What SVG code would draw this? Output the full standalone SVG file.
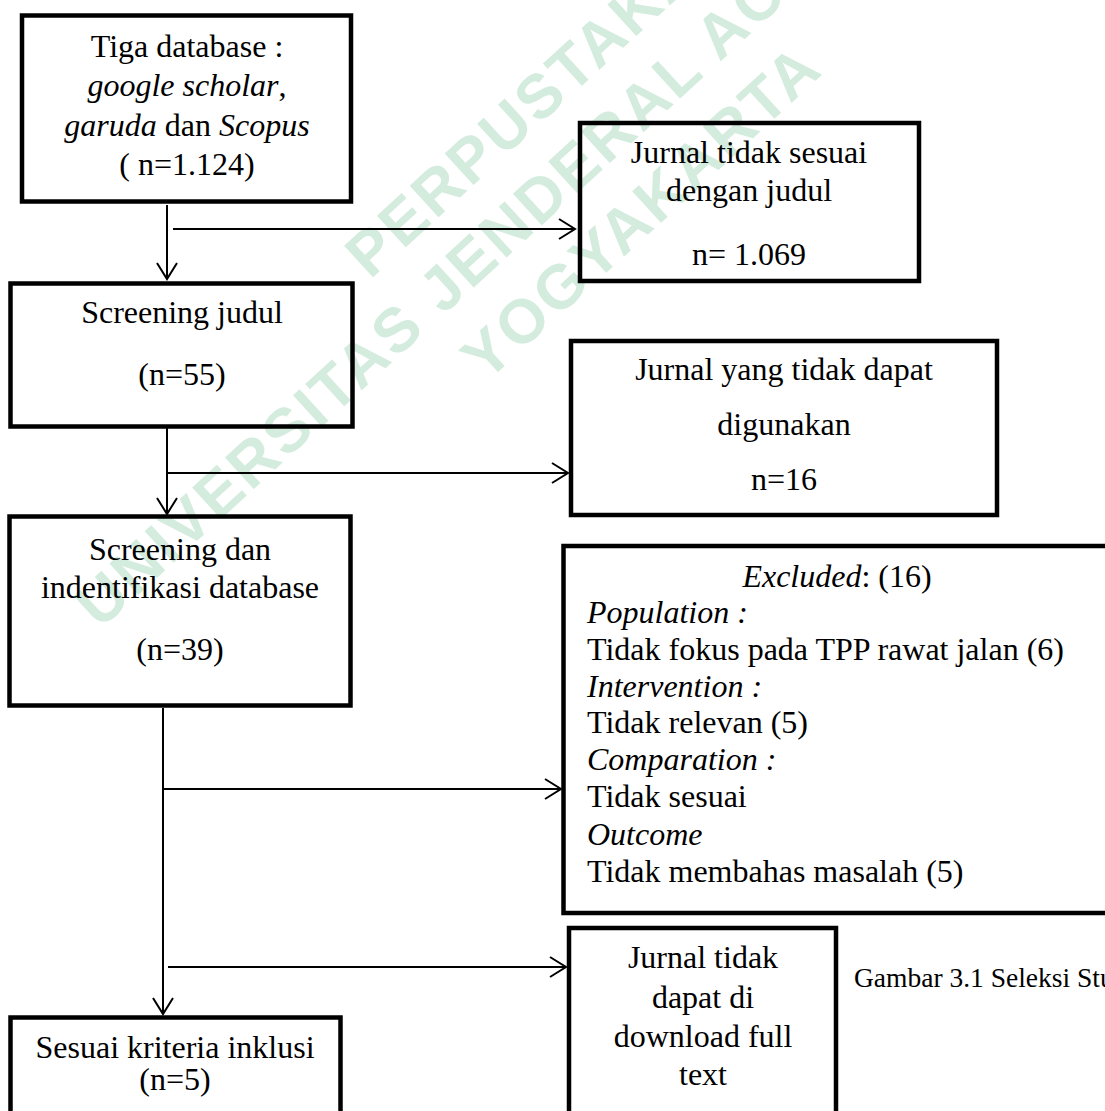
<svg xmlns="http://www.w3.org/2000/svg" width="1105" height="1111" viewBox="0 0 1105 1111">
<style>
.box{fill:none;stroke:#000;stroke-width:4.5}
.t{font-family:"Liberation Serif","Times New Roman",serif;font-size:32px;fill:#000}
.c{text-anchor:middle}
.i{font-style:italic}
.con{fill:none;stroke:#000;stroke-width:2}
.wm{font-family:"Liberation Sans",Arial,sans-serif;font-weight:bold;font-size:62px;fill:#d3ecde;letter-spacing:3px}
</style>
<defs>
<marker id="ah" markerWidth="20" markerHeight="24" refX="17" refY="11" orient="auto" markerUnits="userSpaceOnUse">
<path d="M1,1 L17,11 L1,21" fill="none" stroke="#000" stroke-width="2"/>
</marker>
</defs>
<rect width="1105" height="1111" fill="#fff"/>
<g id="watermark">
<text class="wm" x="370" y="280" transform="rotate(-42.5 370 280)">PERPUSTAKAAN</text>
<text class="wm" x="100" y="630" transform="rotate(-42.5 100 630)">UNIVERSITAS JENDERAL ACHMAD YANI</text>
<text class="wm" x="486" y="383" transform="rotate(-42.5 486 383)">YOGYAKARTA</text>
</g>
<g id="connectors">
<line class="con" x1="167" y1="205" x2="167" y2="279" marker-end="url(#ah)"/>
<line class="con" x1="173" y1="229" x2="575" y2="229" marker-end="url(#ah)"/>
<line class="con" x1="167" y1="428" x2="167" y2="514" marker-end="url(#ah)"/>
<line class="con" x1="167" y1="473" x2="568" y2="473" marker-end="url(#ah)"/>
<line class="con" x1="163" y1="708" x2="163" y2="1014" marker-end="url(#ah)"/>
<line class="con" x1="163" y1="789" x2="561" y2="789" marker-end="url(#ah)"/>
<line class="con" x1="168" y1="967" x2="566" y2="967" marker-end="url(#ah)"/>
</g>
<g id="n1">
<rect class="box" x="22" y="15.5" width="329" height="186"/>
<text class="t c" x="187" y="57">Tiga database :</text>
<text class="t c" x="187" y="96"><tspan class="i">google scholar</tspan>,</text>
<text class="t c" x="187" y="136"><tspan class="i">garuda</tspan> dan <tspan class="i">Scopus</tspan></text>
<text class="t c" x="187" y="175">( n=1.124)</text>
</g>
<g id="n2">
<rect class="box" x="580" y="123" width="339" height="158"/>
<text class="t c" x="749" y="163">Jurnal tidak sesuai</text>
<text class="t c" x="749" y="201">dengan judul</text>
<text class="t c" x="749" y="265">n= 1.069</text>
</g>
<g id="n3">
<rect class="box" x="10.5" y="283.5" width="342" height="143"/>
<text class="t c" x="182" y="323">Screening judul</text>
<text class="t c" x="182" y="385">(n=55)</text>
</g>
<g id="n4">
<rect class="box" x="571" y="341" width="426" height="174"/>
<text class="t c" x="784" y="380">Jurnal yang tidak dapat</text>
<text class="t c" x="784" y="435">digunakan</text>
<text class="t c" x="784" y="490">n=16</text>
</g>
<g id="n5">
<rect class="box" x="9.5" y="516.5" width="341" height="189"/>
<text class="t c" x="180" y="560">Screening dan</text>
<text class="t c" x="180" y="598">indentifikasi database</text>
<text class="t c" x="180" y="660">(n=39)</text>
</g>
<g id="n6">
<rect class="box" x="563.5" y="546" width="548" height="367"/>
<text class="t c" x="837" y="587"><tspan class="i">Excluded</tspan>: (16)</text>
<text class="t i" x="587" y="623">Population :</text>
<text class="t" x="587" y="660">Tidak fokus pada TPP rawat jalan (6)</text>
<text class="t i" x="587" y="697">Intervention :</text>
<text class="t" x="587" y="733">Tidak relevan (5)</text>
<text class="t i" x="587" y="770">Comparation :</text>
<text class="t" x="587" y="807">Tidak sesuai</text>
<text class="t i" x="587" y="845">Outcome</text>
<text class="t" x="587" y="882">Tidak membahas masalah (5)</text>
</g>
<g id="n7">
<rect class="box" x="569" y="928" width="267" height="200"/>
<text class="t c" x="703" y="968">Jurnal tidak</text>
<text class="t c" x="703" y="1008">dapat di</text>
<text class="t c" x="703" y="1047">download full</text>
<text class="t c" x="703" y="1085">text</text>
</g>
<g id="n8">
<rect class="box" x="10.5" y="1017.5" width="330" height="120"/>
<text class="t c" x="175" y="1058">Sesuai kriteria inklusi</text>
<text class="t c" x="175" y="1090">(n=5)</text>
</g>
<g id="caption">
<text class="t" x="854" y="987" style="font-size:27.5px">Gambar 3.1 Seleksi Stu</text>
</g>
</svg>
